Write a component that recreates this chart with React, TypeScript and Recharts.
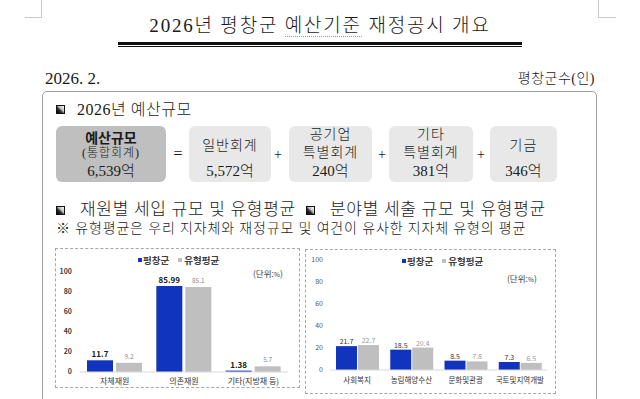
import React from 'react';
import { BarChart, Bar, XAxis, YAxis, LabelList } from 'recharts';

// 예산규모
const totalLabel = '예산규모';
const totalSub = '(통합회계)';
const totalValue = '6,539억';
const budgetLabels = [['일반회계'], ['공기업', '특별회계'], ['기타', '특별회계'], ['기금']];
const budgetValues = ['5,572억', '240억', '381억', '346억'];

// 재원별 세입 (%)
const revenueCats = ['자체재원', '의존재원', '기타(지방채 등)'];
const revenueOurs = [11.7, 85.99, 1.38];
const revenueAvg = [9.2, 85.1, 5.7];

// 분야별 세출 (%)
const spendCats = ['사회복지', '농림해양수산', '문화및관광', '국토및지역개발'];
const spendOurs = [21.7, 18.5, 8.5, 7.3];
const spendAvg = [22.7, 20.4, 7.8, 6.5];

const yTicks = [0, 20, 40, 60, 80, 100];
const seriesNames = ['평창군', '유형평균'];

const BLUE = '#1034be';
const GRAY = '#bfbfbf';
const DOC = '"Liberation Serif", "Noto Sans CJK KR", serif';
const SANS = '"Noto Sans CJK KR", "Noto Sans", sans-serif';

const revenueData = revenueCats.map((name, i) => ({ name, ours: revenueOurs[i], avg: revenueAvg[i] }));
const spendData = spendCats.map((name, i) => ({ name, ours: spendOurs[i], avg: spendAvg[i] }));

// text whose ink is centred on cy
const T = ({ x, cy, size, w, align = 'left', font = DOC, children, style = {} }: any) => (
  <div
    style={{
      position: 'absolute',
      left: x,
      top: cy - size * 0.58,
      width: w,
      fontSize: size,
      lineHeight: `${size * 1.2}px`,
      textAlign: align,
      whiteSpace: 'nowrap',
      fontFamily: font,
      fontWeight: 300,
      color: '#1a1a1a',
      ...style,
    }}
  >
    {children}
  </div>
);

const Icon = ({ x, y }: { x: number; y: number }) => (
  <div
    style={{
      position: 'absolute',
      left: x,
      top: y,
      width: 9,
      height: 9,
      boxSizing: 'border-box',
      border: '1px solid #111',
      background: 'linear-gradient(to top right, #000 0%, #333 40%, #bbb 58%, #fff 100%)',
    }}
  />
);

const Legend2 = ({ x, cy }: { x: number; cy: number }) => (
  <div style={{ position: 'absolute', left: x, top: cy - 7, height: 14, display: 'flex', alignItems: 'center', fontFamily: SANS, fontSize: 9.5, fontWeight: 700, color: '#404040' }}>
    <span style={{ width: 4, height: 4, background: BLUE, marginRight: 1 }} />
    <span style={{ marginRight: 9 }}>{seriesNames[0]}</span>
    <span style={{ width: 4, height: 4, background: GRAY, marginRight: 2 }} />
    <span>{seriesNames[1]}</span>
  </div>
);

const Unit = ({ x, cy }: { x: number; cy: number }) => (
  <T x={x} cy={cy} size={8.5} font={SANS} style={{ color: '#404040', fontWeight: 400 }}>
    (단위:<span style={{ fontSize: 6.5 }}>%</span>)
  </T>
);

const boxes = [
  { x: 189, w: 82 },
  { x: 289, w: 83 },
  { x: 389, w: 84 },
  { x: 490, w: 67 },
];
const plusX = [278, 382, 481];

export default function App() {
  return (
    <div style={{ position: 'absolute', left: 0, top: 0, width: 640, height: 399, overflow: 'hidden', background: '#fff' }}>
      {/* corner marks */}
      <div style={{ position: 'absolute', left: 25, top: 0, width: 16, height: 17, borderRight: '1px solid #c8c8c8', borderBottom: '1px solid #c8c8c8' }} />
      <div style={{ position: 'absolute', left: 598, top: 0, width: 17, height: 17, borderLeft: '1px solid #c8c8c8', borderBottom: '1px solid #c8c8c8' }} />

      <T x={0} w={640} align="center" cy={26.5} size={19} style={{ letterSpacing: 1.8 }}>
        2026년 평창군 <span style={{ borderBottom: '1px dotted #e07a7a' }}>예산기준</span> 재정공시 개요
      </T>
      <div style={{ position: 'absolute', left: 118, top: 42, width: 404, height: 1, borderTop: '3px solid #111', borderBottom: '1.5px solid #111' }} />

      <T x={45} cy={79} size={17}>2026. 2.</T>
      <T x={395} w={200} align="right" cy={79} size={14} style={{ letterSpacing: 0.5 }}>평창군수(인)</T>

      {/* main frame */}
      <div style={{ position: 'absolute', left: 42, top: 91, width: 555, height: 340, boxSizing: 'border-box', border: '1.5px solid #a0a0a0', borderRadius: 5 }} />

      <Icon x={56} y={105} />
      <T x={77} cy={109.5} size={16} style={{ letterSpacing: 0.5 }}>2026년 예산규모</T>

      {/* budget row */}
      <div style={{ position: 'absolute', left: 56, top: 126, width: 110, height: 56, background: '#bfbfbf', borderRadius: 6 }} />
      <T x={56} w={110} align="center" cy={139} size={14} style={{ fontWeight: 700 }}>{totalLabel}</T>
      <T x={56} w={110} align="center" cy={153} size={12} style={{ letterSpacing: 1 }}>{totalSub}</T>
      <T x={56} w={110} align="center" cy={171} size={15}>{totalValue}</T>
      <T x={168} w={20} align="center" cy={153} size={16}>=</T>
      {boxes.map((b, i) => (
        <React.Fragment key={i}>
          <div style={{ position: 'absolute', left: b.x, top: 126, width: b.w, height: 56, background: '#e8e8e8', borderRadius: 6 }} />
          {budgetLabels[i].length === 2 ? (
            <>
              <T x={b.x} w={b.w} align="center" cy={135} size={14} style={{ letterSpacing: 1 }}>{budgetLabels[i][0]}</T>
              <T x={b.x} w={b.w} align="center" cy={153} size={14} style={{ letterSpacing: 1 }}>{budgetLabels[i][1]}</T>
            </>
          ) : (
            <T x={b.x} w={b.w} align="center" cy={146} size={14} style={{ letterSpacing: 1 }}>{budgetLabels[i][0]}</T>
          )}
          <T x={b.x} w={b.w} align="center" cy={171} size={15}>{budgetValues[i]}</T>
        </React.Fragment>
      ))}
      {plusX.map((x, i) => (
        <T key={i} x={x - 10} w={20} align="center" cy={155} size={14}>+</T>
      ))}

      {/* section headings */}
      <Icon x={56} y={206} />
      <T x={80} cy={210} size={17} style={{ letterSpacing: 0.7 }}>재원별 세입 규모 및 유형평균</T>
      <Icon x={306} y={206} />
      <T x={330} cy={210} size={17} style={{ letterSpacing: 0.7 }}>분야별 세출 규모 및 유형평균</T>
      <T x={56} cy={229} size={14} style={{ letterSpacing: 0.85 }}>※ 유형평균은 우리 지자체와 재정규모 및 여건이 유사한 지자체 유형의 평균</T>

      {/* left chart */}
      <div style={{ position: 'absolute', left: 55, top: 248, width: 245, height: 140, boxSizing: 'border-box', border: '1px dashed #a6a6a6' }} />
      <div style={{ position: 'absolute', left: 56, top: 249 }}>
        <BarChart width={244} height={142} data={revenueData} margin={{ top: 23, right: 12, left: 0, bottom: 0 }} barSize={26} barGap={3}>
          <XAxis dataKey="name" interval={0} height={19} axisLine={{ stroke: '#d9d9d9' }} tickLine={false} tickSize={4} tickMargin={2}
            tick={{ fontSize: 8, fill: '#333', fontFamily: SANS }} />
          <YAxis domain={[0, 100]} ticks={yTicks} width={24} axisLine={false} tickLine={false}
            tick={{ fontSize: 7, fill: '#404040', fontFamily: SANS, fontWeight: 700 }} />
          <Bar dataKey="ours" fill={BLUE} isAnimationActive={false}>
            <LabelList dataKey="ours" position="top" offset={3} style={{ fontSize: 8, fontWeight: 700, fill: '#1a1a1a', fontFamily: SANS }} />
          </Bar>
          <Bar dataKey="avg" fill={GRAY} isAnimationActive={false}>
            <LabelList dataKey="avg" position="top" offset={4} style={{ fontSize: 6.5, fill: '#8a8a8a', fontFamily: SANS }} />
          </Bar>
        </BarChart>
      </div>
      <Legend2 x={138} cy={260} />
      <Unit x={253} cy={273} />

      {/* right chart */}
      <div style={{ position: 'absolute', left: 305, top: 249, width: 251, height: 145, boxSizing: 'border-box', border: '1px dashed #a6a6a6' }} />
      <div style={{ position: 'absolute', left: 306, top: 250 }}>
        <BarChart width={250} height={146} data={spendData} margin={{ top: 10, right: 9, left: 0, bottom: 8 }} barSize={21} barGap={1}>
          <XAxis dataKey="name" interval={0} height={18} axisLine={{ stroke: '#d9d9d9' }} tickLine={false} tickSize={6} tickMargin={2}
            tick={{ fontSize: 7.5, fill: '#333', fontFamily: SANS }} />
          <YAxis domain={[0, 100]} ticks={yTicks} width={24} axisLine={false} tickLine={false} tickSize={5} tickMargin={2}
            tick={{ fontSize: 7, fill: '#595959', fontFamily: SANS }} />
          <Bar dataKey="ours" fill={BLUE} isAnimationActive={false}>
            <LabelList dataKey="ours" position="top" offset={2} style={{ fontSize: 7, fill: '#333', fontFamily: SANS }} />
          </Bar>
          <Bar dataKey="avg" fill={GRAY} isAnimationActive={false}>
            <LabelList dataKey="avg" position="top" offset={2} style={{ fontSize: 7, fill: '#999', fontFamily: SANS }} />
          </Bar>
        </BarChart>
      </div>
      <Legend2 x={402} cy={261} />
      <Unit x={507} cy={278} />
    </div>
  );
}
